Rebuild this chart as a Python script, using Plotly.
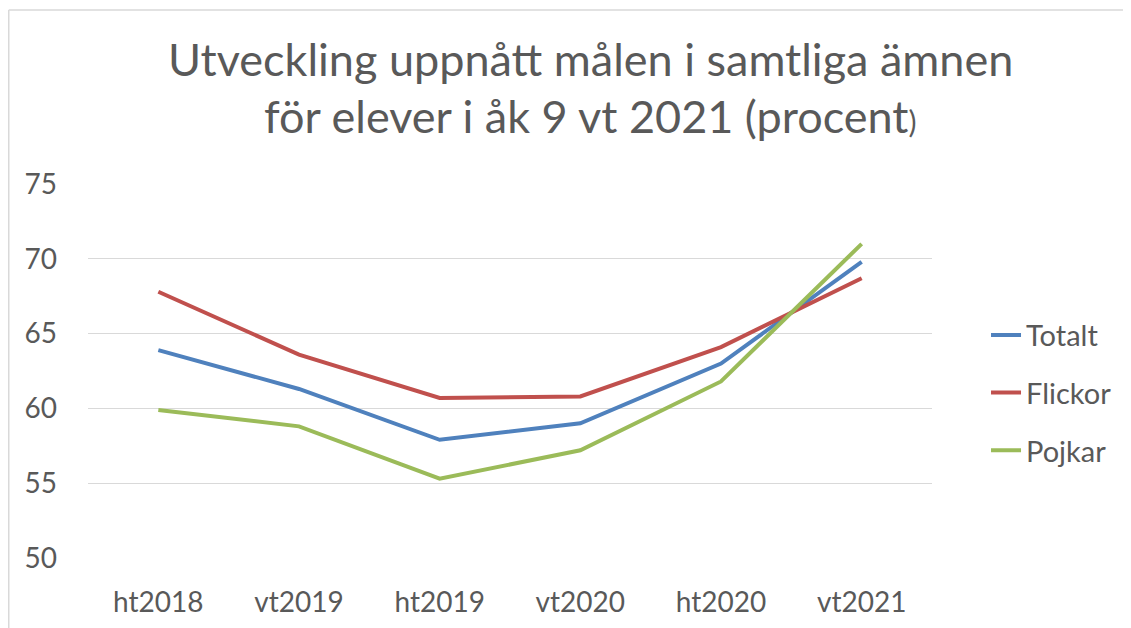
import plotly.graph_objects as go

# data
terms = ["ht2018", "vt2019", "ht2019", "vt2020", "ht2020", "vt2021"]
totalt = [63.9, 61.3, 57.9, 59.0, 63.0, 69.8]
flickor = [67.8, 63.6, 60.7, 60.8, 64.1, 68.7]
pojkar = [59.9, 58.8, 55.3, 57.2, 61.8, 71.0]

series = [
    ("Totalt", totalt, "#4F81BD"),
    ("Flickor", flickor, "#C0504D"),
    ("Pojkar", pojkar, "#9BBB59"),
]

fig = go.Figure()
for name, vals, col in series:
    fig.add_trace(go.Scatter(x=terms, y=vals, name=name, legendgroup=name,
                             mode="lines", line=dict(color=col, width=4)))

font = "Lato, 'Open Sans', sans-serif"
grey = "#595959"

# page body has an 8px margin, so the plot area is set 8px up/left:
# figure coords x 80..924, y 176..550
W, H = 844, 374
fig.update_layout(
    width=1131, height=628,
    paper_bgcolor="white", plot_bgcolor="white",
    margin=dict(l=80, r=1131 - 924, t=176, b=628 - 550, autoexpand=False),
    font=dict(family=font, color=grey, size=28),
    showlegend=True,
    legend=dict(x=1.064, y=0.441, xanchor="left", yanchor="middle",
                font=dict(size=29, color=grey), tracegroupgap=17),
)

# title as two lines, Excel style
fig.add_annotation(text="Utveckling uppnått målen i samtliga ämnen",
                   xref="paper", yref="paper", x=0.595, y=1.0,
                   xanchor="center", yanchor="middle", yshift=184 - 64 + 5,
                   showarrow=False, font=dict(size=45, color=grey, family=font))
fig.add_annotation(text="för elever i åk 9 vt 2021 (procent<span style='font-size:30px'>)</span>",
                   xref="paper", yref="paper", x=0.595, y=1.0,
                   xanchor="center", yanchor="middle", yshift=184 - 121 + 5,
                   showarrow=False, font=dict(size=45, color=grey, family=font))

fig.update_xaxes(range=[-0.5, 5.5], showgrid=False, showline=False, ticks="",
                 tickfont=dict(size=28, color=grey), ticklabelstandoff=25)
fig.update_yaxes(range=[50, 75], dtick=5, showgrid=True, gridcolor="#D9D9D9",
                 gridwidth=1, zeroline=False, showline=False, ticks="",
                 tickfont=dict(size=28, color=grey), ticklabelstandoff=30)

# thin chart-area border (top and left edges visible in the original)
ytop = (550 - 2) / H
xleft = (0.75 - 80) / W
fig.add_shape(type="line", xref="paper", yref="paper",
              x0=xleft, x1=(1131 - 80) / W, y0=ytop, y1=ytop,
              line=dict(color="#D9D9D9", width=1.5), layer="below")
fig.add_shape(type="line", xref="paper", yref="paper",
              x0=xleft, x1=xleft, y0=ytop, y1=(550 - 640) / H,
              line=dict(color="#D9D9D9", width=1.5), layer="below")

fig.write_html("out.html")
